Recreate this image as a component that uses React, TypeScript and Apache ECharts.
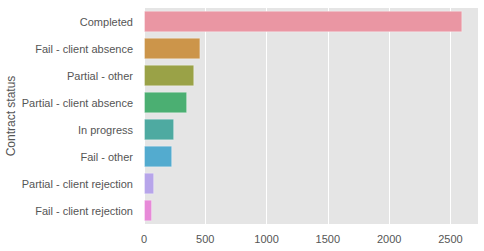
import React, { useEffect, useRef } from "react";
import * as echarts from "echarts";

const categories = [
  "Completed",
  "Fail - client absence",
  "Partial - other",
  "Partial - client absence",
  "In progress",
  "Fail - other",
  "Partial - client rejection",
  "Fail - client rejection",
];
const counts = [2597, 460, 410, 352, 246, 230, 83, 66];
const colors = [
  "#EA96A3",
  "#CC954A",
  "#9AA247",
  "#4BAF72",
  "#4EAAA1",
  "#53ABCF",
  "#B7A5EA",
  "#E78AD8",
];
const xTicks = { min: 0, max: 2725, interval: 500 };

export default function App() {
  const ref = useRef<HTMLDivElement>(null);
  useEffect(() => {
    if (!ref.current) return;
    const chart = echarts.init(ref.current, undefined, { renderer: "svg" });
    const font = "Liberation Sans, Arial, sans-serif";
    chart.setOption({
      animation: false,
      backgroundColor: "#ffffff",
      textStyle: { fontFamily: font },
      grid: {
        left: 144,
        top: 8,
        width: 334,
        height: 216,
        backgroundColor: "#E5E5E5",
        show: true,
        borderWidth: 0,
        containLabel: false,
        outerBoundsMode: "none",
      },
      xAxis: {
        type: "value",
        min: xTicks.min,
        max: xTicks.max,
        interval: xTicks.interval,
        axisLine: { show: false },
        axisTick: { show: false },
        axisLabel: {
          color: "#555555",
          fontSize: 11,
          margin: 9,
          showMaxLabel: false,
          fontFamily: font,
          formatter: (v: number) => String(v),
        },
        splitLine: { show: true, lineStyle: { color: "#ffffff", width: 1 } },
      },
      yAxis: {
        type: "category",
        inverse: true,
        data: categories,
        axisLine: { show: false },
        axisTick: { show: false },
        axisLabel: { color: "#555555", fontSize: 11, margin: 11, fontFamily: font },
        splitLine: { show: false },
        name: "Contract status",
        nameLocation: "middle",
        nameRotate: 90,
        nameGap: 127,
        nameMoveOverlap: false,
        nameTextStyle: { color: "#555555", fontSize: 12, fontFamily: font },
      },
      series: [
        {
          type: "bar",
          barWidth: "80%",
          data: counts.map((v, i) => ({
            value: v,
            itemStyle: { color: colors[i], borderColor: "rgba(255,255,255,0.35)", borderWidth: 1 },
          })),
        },
      ],
    });
    return () => chart.dispose();
  }, []);
  return (
    <div
      ref={ref}
      style={{ position: "fixed", left: 0, top: 0, width: 484, height: 251 }}
    />
  );
}
